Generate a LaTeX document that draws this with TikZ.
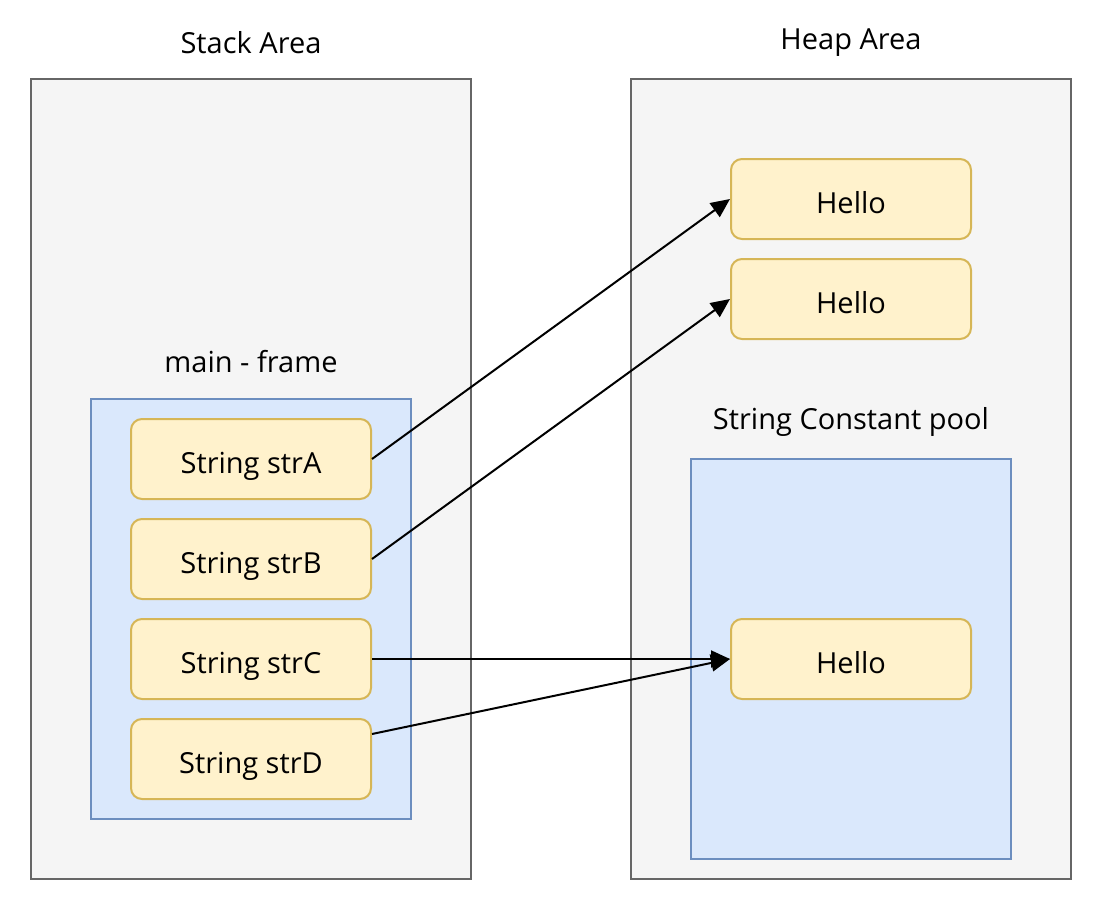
\documentclass[tikz,border=0pt]{standalone}
\usepackage{fontspec}
\setmainfont{Open Sans}
\usetikzlibrary{arrows.meta}
\definecolor{areafill}{HTML}{F5F5F5}
\definecolor{areadraw}{HTML}{666666}
\definecolor{bluefill}{HTML}{DAE8FC}
\definecolor{bluedraw}{HTML}{6C8EBF}
\definecolor{yelfill}{HTML}{FFF2CC}
\definecolor{yeldraw}{HTML}{D6B656}
\tikzset{
  area/.style={fill=areafill,draw=areadraw,line width=2pt},
  bluebox/.style={fill=bluefill,draw=bluedraw,line width=2pt},
  cell/.style={fill=yelfill,draw=yeldraw,line width=2pt,rounded corners=11pt,
    minimum width=240pt,minimum height=80pt,inner sep=0pt,
    text height=29pt,text depth=0pt,font=\fontsize{29}{34}\selectfont},
  lbl/.style={font=\fontsize{29}{34}\selectfont,inner sep=0pt},
  conn/.style={draw,line width=2pt,-{Triangle[length=19pt,width=17pt]}}
}
\begin{document}
\begin{tikzpicture}[x=1pt,y=-1pt]
\useasboundingbox (0,0) rectangle (1098,902);
% areas
\draw[area] (31,79) rectangle (471,879);
\draw[area] (631,79) rectangle (1071,879);
\node[lbl] (stacklbl) at (251,43) {Stack Area};
\node[lbl] (heaplbl) at (851,43) {Heap Area};
% main frame
\draw[bluebox] (91,399) rectangle (411,819);
\node[lbl] (mainlbl) at (251,362) {main - frame};
% pool
\draw[bluebox] (691,459) rectangle (1011,859);
\node[lbl] (poollbl) at (851,422) {String Constant pool};
% cells
\node[cell] (strA) at (251,459) {String strA};
\node[cell] (strB) at (251,559) {String strB};
\node[cell] (strC) at (251,659) {String strC};
\node[cell] (strD) at (251,759) {String strD};
\node[cell] (h1) at (851,199) {Hello};
\node[cell] (h2) at (851,299) {Hello};
\node[cell] (h3) at (851,659) {Hello};
% connectors
\draw[conn] (strA.east) -- (h1.west);
\draw[conn] (strB.east) -- (h2.west);
\draw[conn] (strC.east) -- (h3.west);
\coordinate (dout) at ([yshift=25pt]strD.east);
\draw[conn] (dout) -- (h3.west);
\end{tikzpicture}
\end{document}
